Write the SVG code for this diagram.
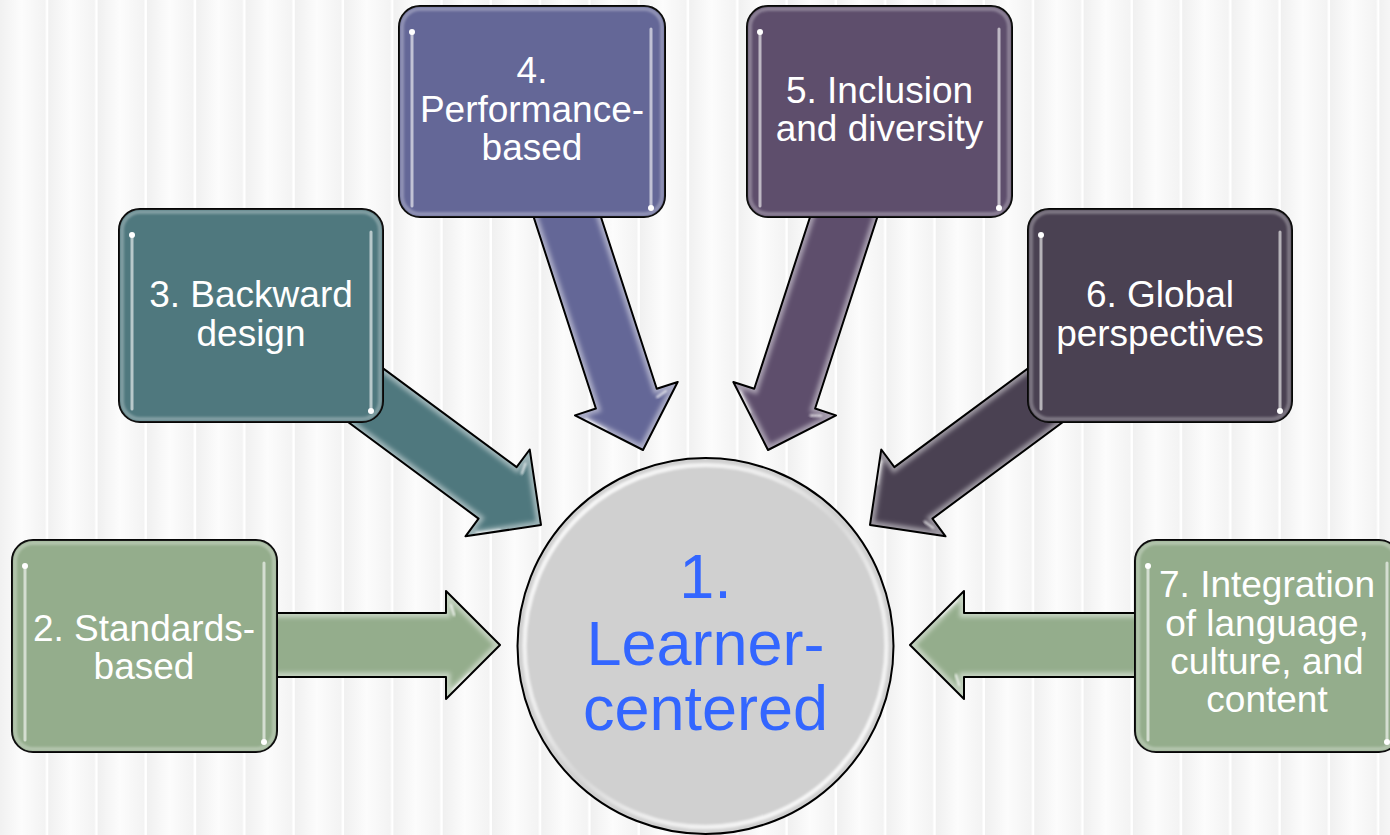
<svg xmlns="http://www.w3.org/2000/svg" xmlns:xlink="http://www.w3.org/1999/xlink" width="1390" height="835" viewBox="0 0 1390 835">
  <defs>
    <!-- vertical striped backdrop -->
    <linearGradient id="stripeGrad" x1="0" y1="0" x2="1" y2="0">
      <stop offset="0" stop-color="#f0f0f0"/>
      <stop offset="0.45" stop-color="#fcfcfc"/>
      <stop offset="1" stop-color="#f2f2f2"/>
    </linearGradient>
    <pattern id="stripes" x="-1" y="0" width="49.3" height="835" patternUnits="userSpaceOnUse">
      <rect x="0" y="0" width="49.3" height="835" fill="url(#stripeGrad)"/>
      <rect x="46.8" y="0" width="2.5" height="835" fill="#ffffff"/>
    </pattern>

    <!-- block arrow, tip at origin, pointing along +x -->
    <path id="arrowShape" d="M0,0 L-54,-54 L-54,-32 L-300,-32 L-300,32 L-54,32 L-54,54 Z"/>
    <clipPath id="arrowClip" clipPathUnits="userSpaceOnUse">
      <use xlink:href="#arrowShape"/>
    </clipPath>

    <filter id="soft" x="-20%" y="-20%" width="140%" height="140%">
      <feGaussianBlur stdDeviation="2.2"/>
    </filter>
    <filter id="softer" x="-50%" y="-50%" width="200%" height="200%">
      <feGaussianBlur stdDeviation="0.8"/>
    </filter>
    <filter id="haze" x="-300%" y="-10%" width="700%" height="120%">
      <feGaussianBlur stdDeviation="1.4"/>
    </filter>

    <!-- glossy ring of the centre disc -->
    <linearGradient id="ringGrad" x1="0" y1="0" x2="1" y2="1">
      <stop offset="0" stop-color="#ffffff" stop-opacity="0.95"/>
      <stop offset="0.35" stop-color="#ffffff" stop-opacity="0.6"/>
      <stop offset="0.5" stop-color="#ffffff" stop-opacity="0.15"/>
      <stop offset="0.65" stop-color="#ffffff" stop-opacity="0.6"/>
      <stop offset="1" stop-color="#ffffff" stop-opacity="0.95"/>
    </linearGradient>

    <style>
      .edge { stroke: #000000; stroke-width: 2; stroke-linejoin: round; fill: none; }
      .glow { fill: none; stroke: #ffffff; stroke-opacity: 0.45; stroke-width: 9; }
      .streak { stroke: #ffffff; stroke-opacity: 0.8; stroke-width: 2.5; stroke-linecap: round; fill: none; }
      .hl { stroke: #ffffff; stroke-opacity: 0.6; stroke-width: 3; stroke-linecap: round; fill: none; }
      .hlglow { stroke: #ffffff; stroke-opacity: 0.8; stroke-width: 6; stroke-linecap: round; fill: none; }
      .dot { fill: #ffffff; }
      .rim { fill: none; stroke: #ffffff; stroke-opacity: 0.28; stroke-width: 4; }
      .label { font-family: "Liberation Sans", Arial, sans-serif; font-size: 37px; fill: #ffffff; text-anchor: middle; }
      .core { font-family: "Liberation Sans", Arial, sans-serif; font-size: 63px; fill: #3366ff; text-anchor: middle; }
      .green { fill: #94ad8c; }
      .teal { fill: #4f787e; }
      .blue { fill: #646797; }
      .plum { fill: #5e4e6c; }
      .dusk { fill: #4a4152; }
    </style>

    <!-- arrow body with inner glow and bevel streaks -->
    <g id="arrowBody">
      <use xlink:href="#arrowShape"/>
      <g clip-path="url(#arrowClip)">
        <use xlink:href="#arrowShape" class="glow" filter="url(#soft)"/>
        <line x1="-49" y1="-40" x2="-46" y2="-30" class="streak" filter="url(#softer)"/>
        <line x1="-47" y1="45" x2="-30" y2="29" class="streak" filter="url(#softer)"/>
      </g>
      <use xlink:href="#arrowShape" class="edge"/>
    </g>

    <!-- gloss strips inside a node: left one dotted on top, right one dotted at bottom -->
    <g id="gloss">
      <line x1="13" y1="26" x2="13" y2="200" class="hlglow" filter="url(#haze)"/>
      <line x1="13" y1="26" x2="13" y2="200" class="hl"/>
      <circle cx="13" cy="26" r="3" class="dot"/>
      <line x1="252" y1="23" x2="252" y2="202" class="hlglow" filter="url(#haze)"/>
      <line x1="252" y1="23" x2="252" y2="202" class="hl"/>
      <circle cx="252" cy="202" r="3" class="dot"/>
    </g>
  </defs>

  <!-- backdrop -->
  <rect x="0" y="0" width="1390" height="835" fill="url(#stripes)"/>

  <!-- connectors -->
  <g id="connectors">
    <use xlink:href="#arrowBody" class="green" transform="translate(500,645)"/>
    <use xlink:href="#arrowBody" class="teal" transform="translate(541,525) rotate(36.5)"/>
    <use xlink:href="#arrowBody" class="blue" transform="translate(643,450) rotate(72)"/>
    <use xlink:href="#arrowBody" class="plum" transform="translate(768,450) rotate(108)"/>
    <use xlink:href="#arrowBody" class="dusk" transform="translate(870,525) rotate(143.5)"/>
    <use xlink:href="#arrowBody" class="green" transform="translate(910,645) rotate(180)"/>
  </g>

  <!-- 2. Standards-based -->
  <g id="node2">
    <rect x="12" y="540" width="265" height="212" rx="21" class="green" stroke="#000" stroke-width="2"/>
    <rect x="15" y="543" width="259" height="206" rx="18" class="rim" filter="url(#softer)"/>
    <use xlink:href="#gloss" transform="translate(12,540)"/>
    <text class="label" x="144" y="641">2. Standards-</text>
    <text class="label" x="144" y="679">based</text>
  </g>

  <!-- 3. Backward design -->
  <g id="node3">
    <rect x="119" y="209" width="264" height="213" rx="21" class="teal" stroke="#000" stroke-width="2"/>
    <rect x="122" y="212" width="258" height="207" rx="18" class="rim" filter="url(#softer)"/>
    <use xlink:href="#gloss" transform="translate(119,209)"/>
    <text class="label" x="251" y="307">3. Backward</text>
    <text class="label" x="251" y="345.5">design</text>
  </g>

  <!-- 4. Performance-based -->
  <g id="node4">
    <rect x="399" y="6" width="266" height="211" rx="21" class="blue" stroke="#000" stroke-width="2"/>
    <rect x="402" y="9" width="260" height="205" rx="18" class="rim" filter="url(#softer)"/>
    <use xlink:href="#gloss" transform="translate(399,6)"/>
    <text class="label" x="532" y="83">4.</text>
    <text class="label" x="532" y="121.5">Performance-</text>
    <text class="label" x="532" y="160">based</text>
  </g>

  <!-- 5. Inclusion and diversity -->
  <g id="node5">
    <rect x="747" y="6" width="265" height="211" rx="21" class="plum" stroke="#000" stroke-width="2"/>
    <rect x="750" y="9" width="259" height="205" rx="18" class="rim" filter="url(#softer)"/>
    <use xlink:href="#gloss" transform="translate(747,6)"/>
    <text class="label" x="879.5" y="103">5. Inclusion</text>
    <text class="label" x="879.5" y="141">and diversity</text>
  </g>

  <!-- 6. Global perspectives -->
  <g id="node6">
    <rect x="1028" y="209" width="264" height="213" rx="21" class="dusk" stroke="#000" stroke-width="2"/>
    <rect x="1031" y="212" width="258" height="207" rx="18" class="rim" filter="url(#softer)"/>
    <use xlink:href="#gloss" transform="translate(1028,209)"/>
    <text class="label" x="1160" y="307">6. Global</text>
    <text class="label" x="1160" y="345.5">perspectives</text>
  </g>

  <!-- 7. Integration of language, culture, and content -->
  <g id="node7">
    <rect x="1135" y="540" width="265" height="212" rx="21" class="green" stroke="#000" stroke-width="2"/>
    <rect x="1138" y="543" width="259" height="206" rx="18" class="rim" filter="url(#softer)"/>
    <use xlink:href="#gloss" transform="translate(1135,540)"/>
    <text class="label" x="1267" y="597">7. Integration</text>
    <text class="label" x="1267" y="635.5">of language,</text>
    <text class="label" x="1267" y="674">culture, and</text>
    <text class="label" x="1267" y="712">content</text>
  </g>

  <!-- 1. Learner-centered -->
  <g id="node1">
    <circle cx="705.5" cy="646" r="188" fill="#d0d0d0" stroke="#000" stroke-width="2"/>
    <circle cx="705.5" cy="646" r="181" fill="none" stroke="url(#ringGrad)" stroke-width="4.5" filter="url(#softer)"/>
    <text class="core" x="705.5" y="598">1.</text>
    <text class="core" x="705.5" y="665">Learner-</text>
    <text class="core" x="705.5" y="730">centered</text>
  </g>
</svg>
